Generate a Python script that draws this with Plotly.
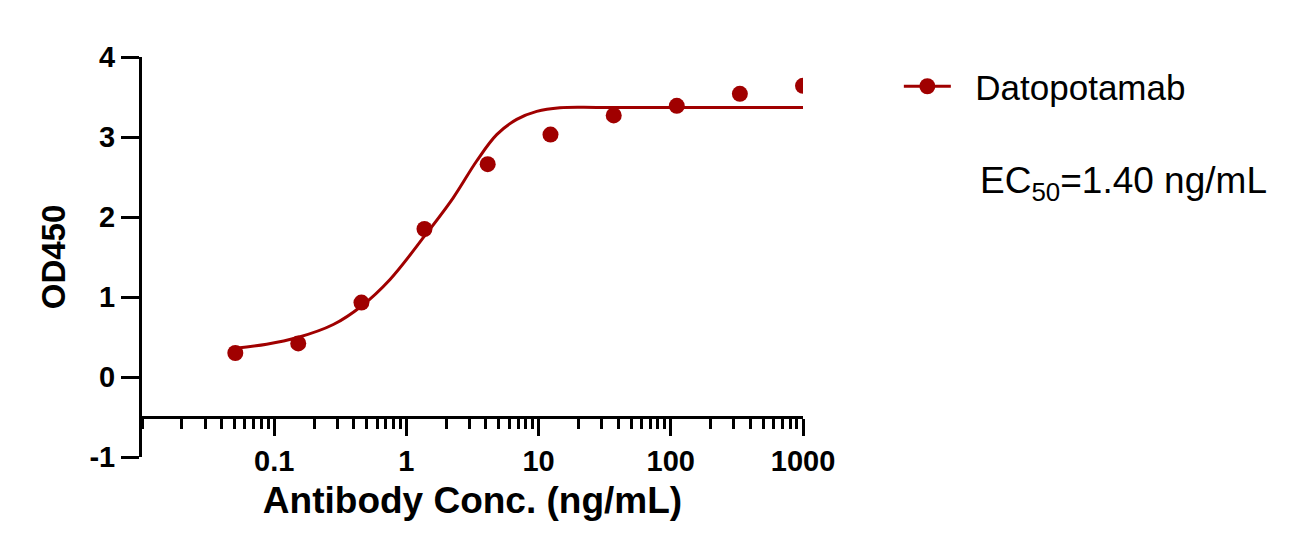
import plotly.graph_objects as go

# measured points (ng/mL vs OD450)
conc = [0.0508, 0.152, 0.457, 1.37, 4.12, 12.3, 37.0, 111, 333, 1000]
od450 = [0.30, 0.42, 0.93, 1.85, 2.66, 3.03, 3.27, 3.39, 3.54, 3.64]

# fitted curve
fit_conc = [0.0508, 0.0877, 0.148, 0.280, 0.456, 0.752, 1.37, 2.26, 3.40,
            4.82, 6.83, 9.68, 14.5, 29.1, 1000]
fit_od = [0.36, 0.41, 0.49, 0.656, 0.885, 1.22, 1.76, 2.24, 2.70,
          3.03, 3.22, 3.32, 3.365, 3.37, 3.37]

x_tickvals = [0.1, 1, 10, 100, 1000]
x_ticktext = ["0.1", "1", "10", "100", "1000"]
y_tickvals = [-1, 0, 1, 2, 3, 4]
y_ticktext = ["-1", "0", "1", "2", "3", "4"]

RED = "#A00000"
FONT = "Arial, Liberation Sans, sans-serif"

fig = go.Figure()
fig.add_trace(go.Scatter(x=fit_conc, y=fit_od, mode="lines",
                         line=dict(color=RED, width=3, shape="spline", smoothing=1.0),
                         showlegend=False, hoverinfo="skip"))
fig.add_trace(go.Scatter(x=conc, y=od450, mode="markers",
                         marker=dict(color=RED, size=16),
                         showlegend=False))
# legend entry only
fig.add_trace(go.Scatter(x=[None], y=[None], mode="lines+markers",
                         name="\u00a0\u00a0Datopotamab",
                         line=dict(color=RED, width=3), marker=dict(color=RED, size=16)))

fig.update_layout(
    width=1296, height=551,
    margin=dict(l=142, r=493, t=57, b=94),
    plot_bgcolor="white", paper_bgcolor="white",
    font=dict(family=FONT, color="black"),
    legend=dict(x=1.145, y=1.0, xanchor="left", yanchor="top",
                font=dict(size=35, family=FONT), itemwidth=47,
                bgcolor="rgba(0,0,0,0)"),
    xaxis=dict(
        type="log", range=[-2, 3], anchor="free", position=0.1,
        showgrid=False, zeroline=False, automargin=False,
        showline=True, linecolor="black", linewidth=3,
        tickmode="array", tickvals=x_tickvals, ticktext=x_ticktext,
        ticks="outside", ticklen=17, tickwidth=3, tickcolor="black",
        tickfont=dict(size=29, family=FONT, weight="bold"),
        minor=dict(ticks="outside", ticklen=10, tickwidth=3, tickcolor="black", dtick="D1"),
        title=dict(text="<b>Antibody Conc. (ng/mL)</b>", font=dict(size=37, family=FONT), standoff=11),
    ),
    yaxis=dict(
        range=[-1, 4], showgrid=False, zeroline=False, automargin=False,
        showline=True, linecolor="black", linewidth=3,
        tickmode="array", tickvals=y_tickvals, ticktext=y_ticktext,
        ticks="outside", ticklen=18, tickwidth=3, tickcolor="black",
        tickfont=dict(size=29, family=FONT, weight="bold"),
        title=dict(text="<b>OD450</b>", font=dict(size=33, family=FONT), standoff=14),
    ),
)

fig.add_annotation(xref="paper", yref="paper", x=1.265, y=0.685,
                   xanchor="left", yanchor="middle", showarrow=False,
                   text="EC<sub>50</sub>=1.40 ng/mL", font=dict(size=37, family=FONT))

fig.write_html("out.html", config={"displayModeBar": False},
               post_script="document.body.style.margin = '0';")
